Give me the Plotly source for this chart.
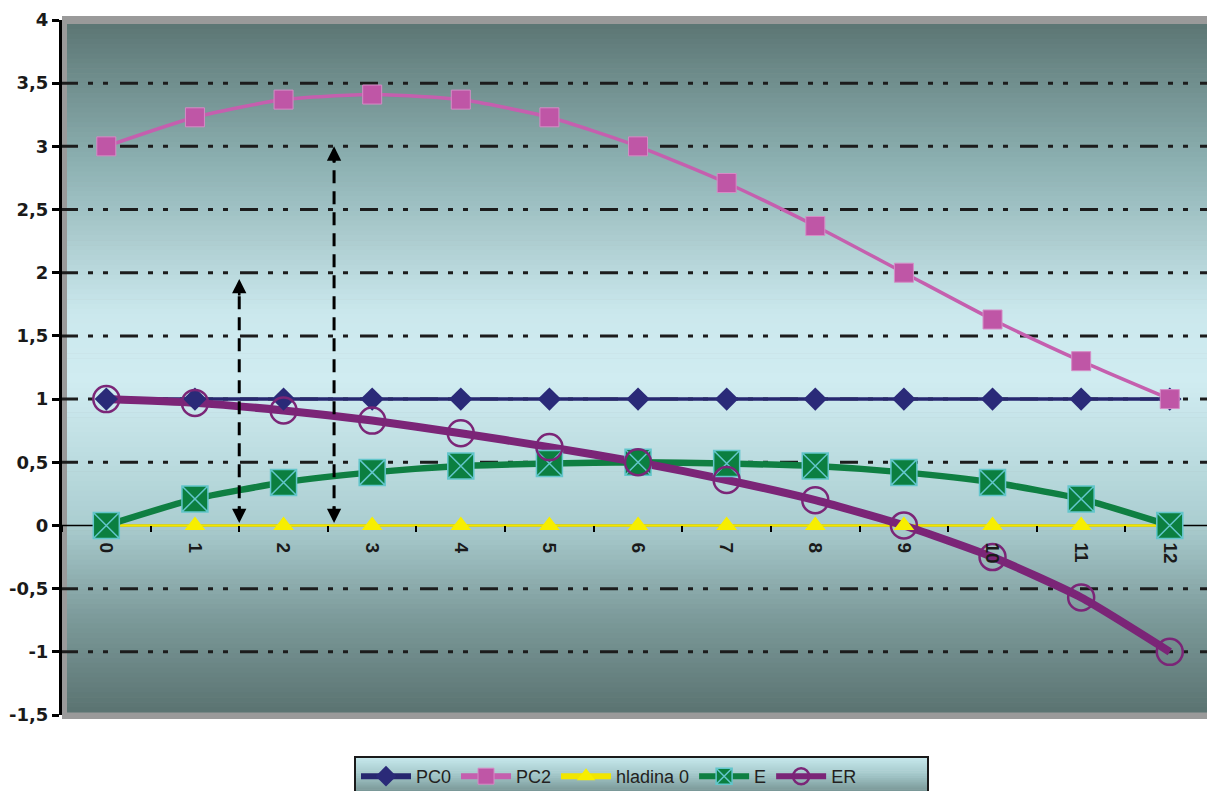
import plotly.graph_objects as go

# ---- data -------------------------------------------------------------
categories = [str(i) for i in range(13)]
pc0 = [1, 1, 1, 1, 1, 1, 1, 1, 1, 1, 1, 1, 1]
pc2 = [3.0, 3.23, 3.37, 3.41, 3.37, 3.23, 3.0, 2.71, 2.37, 2.0, 1.63, 1.3, 1.0]
hladina0 = [0, 0, 0, 0, 0, 0, 0, 0, 0, 0, 0, 0, 0]
e_vals = [0, 0.21, 0.34, 0.42, 0.47, 0.49, 0.5, 0.49, 0.47, 0.42, 0.34, 0.21, 0]
er_vals = [1, 0.97, 0.91, 0.83, 0.73, 0.62, 0.5, 0.36, 0.2, 0, -0.25, -0.57, -1]

y_tickvals = [4, 3.5, 3, 2.5, 2, 1.5, 1, 0.5, 0, -0.5, -1, -1.5]
y_ticktext = ["4", "3,5", "3", "2,5", "2", "1,5", "1", "0,5", "0", "-0,5", "-1", "-1,5"]
grid_values = [3.5, 3, 2.5, 2, 1.5, 1, 0.5, -0.5, -1]

# double-headed dimension arrows (category position, top value)
arrow_x = [1.5, 2.57]
arrow_top = [1.95, 3.0]

# ---- geometry helpers (pixels -> paper) -------------------------------
W, H = 1207, 791
ML, MR, MT, MB = 62, 0, 20, 76
PW, PH = W - ML - MR, H - MT - MB


def px_x(px):
    return (px - ML) / PW


def px_y(py):
    return (H - MB - py) / PH


def lerp_color(stops, t):
    for (t0, c0), (t1, c1) in zip(stops, stops[1:]):
        if t0 <= t <= t1:
            f = (t - t0) / (t1 - t0) if t1 > t0 else 0
            c = [round(a + (b - a) * f) for a, b in zip(c0, c1)]
            return "rgb(%d,%d,%d)" % tuple(c)
    return "rgb(%d,%d,%d)" % stops[-1][1]


shapes = []

# grey wall frame behind the plotting area
shapes.append(dict(type="rect", xref="paper", yref="paper", layer="below",
                   x0=px_x(62), x1=px_x(1207), y0=px_y(719), y1=px_y(16),
                   fillcolor="#9a9a9a", line=dict(width=0)))

# vertical gradient of the wall
wall_stops = [
    (0.00, (92, 118, 116)),
    (0.20, (140, 176, 177)),
    (0.42, (203, 232, 237)),
    (0.52, (208, 236, 241)),
    (0.72, (172, 207, 210)),
    (0.86, (125, 155, 155)),
    (1.00, (90, 115, 113)),
]
g_top, g_bot = 24, 712
n_bands = 140
for i in range(n_bands):
    y0 = g_top + (g_bot - g_top) * i / n_bands
    y1 = g_top + (g_bot - g_top) * (i + 1) / n_bands
    col = lerp_color(wall_stops, (i + 0.5) / n_bands)
    shapes.append(dict(type="rect", xref="paper", yref="paper", layer="below",
                       x0=px_x(67), x1=px_x(1207), y0=px_y(y1 + 0.6), y1=px_y(y0),
                       fillcolor=col, line=dict(width=0)))

# dash-dot-dot horizontal gridlines
for gv in grid_values:
    shapes.append(dict(type="line", xref="paper", yref="y", layer="below",
                       x0=px_x(60), x1=1, y0=gv, y1=gv,
                       line=dict(color="#1c1c1c", width=3,
                                 dash="18px,10px,5px,10px,5px,12px")))

# category axis line at y = 0 (kept underneath the series)
shapes.append(dict(type="line", xref="paper", yref="y", layer="below",
                   x0=0, x1=1, y0=0, y1=0,
                   line=dict(color="black", width=1.5)))

# dashed shafts of the arrows
for ax_, top in zip(arrow_x, arrow_top):
    shapes.append(dict(type="line", xref="x", yref="y", layer="above",
                       x0=ax_, x1=ax_, y0=0.05, y1=top - 0.08,
                       line=dict(color="black", width=3, dash="13px,8px")))

# legend box background gradient + border
leg_stops = [(0.0, (200, 234, 238)), (0.5, (160, 196, 198)), (1.0, (110, 138, 137))]
lb_top, lb_bot = 757, 795
for i in range(20):
    y0 = lb_top + (lb_bot - lb_top) * i / 20
    y1 = lb_top + (lb_bot - lb_top) * (i + 1) / 20
    shapes.append(dict(type="rect", xref="paper", yref="paper", layer="below",
                       x0=px_x(355), x1=px_x(928), y0=px_y(y1 + 0.5), y1=px_y(y0),
                       fillcolor=lerp_color(leg_stops, (i + 0.5) / 20),
                       line=dict(width=0)))
shapes.append(dict(type="rect", xref="paper", yref="paper", layer="above",
                   x0=px_x(355), x1=px_x(928), y0=px_y(lb_bot), y1=px_y(lb_top),
                   fillcolor="rgba(0,0,0,0)", line=dict(color="#1a1a1a", width=2)))

annotations = []
for ax_, top in zip(arrow_x, arrow_top):
    annotations.append(dict(x=ax_, y=top, xref="x", yref="y", text="",
                            showarrow=True, ax=0, ay=18, arrowhead=2,
                            arrowsize=1.1, arrowwidth=2.6, arrowcolor="black",
                            standoff=0))
    annotations.append(dict(x=ax_, y=0.02, xref="x", yref="y", text="",
                            showarrow=True, ax=0, ay=-18, arrowhead=2,
                            arrowsize=1.1, arrowwidth=2.6, arrowcolor="black",
                            standoff=0))

series = [
    dict(name="PC0", y=pc0, lc="#27276f", lw=3.5, shape="linear",
         marker=dict(symbol="diamond", size=18, color="#2a2a78",
                     line=dict(width=0))),
    dict(name="PC2", y=pc2, lc="#c55fae", lw=3.5, shape="spline",
         marker=dict(symbol="square", size=19, color="#bf56a6",
                     line=dict(width=1, color="#d58cc6"))),
    dict(name="hladina 0", y=hladina0, lc="#f2e600", lw=2.5, shape="linear",
         marker=dict(symbol="triangle-up", size=18, color="#f7ee00",
                     line=dict(width=0))),
    dict(name="E", y=e_vals, lc="#0f7f42", lw=6.5, shape="spline",
         marker=dict(symbol="square-x", size=26, color="#0b7f40",
                     line=dict(width=1.5, color="#63c6cc"))),
    dict(name="ER", y=er_vals, lc="#7b2577", lw=8, shape="spline",
         marker=dict(symbol="circle-open", size=26, color="#7b2577",
                     line=dict(width=2.5))),
]

fig = go.Figure()
# all connecting lines first, markers on top of them
for s in series:
    fig.add_trace(go.Scatter(x=categories, y=s["y"], mode="lines",
                             line=dict(color=s["lc"], width=s["lw"],
                                       shape=s["shape"], smoothing=0.6),
                             showlegend=False, hoverinfo="skip"))
for s in series:
    fig.add_trace(go.Scatter(x=categories, y=s["y"], mode="markers",
                             marker=s["marker"], showlegend=False,
                             name=s["name"]))
# legend entries
for s in series:
    lm = dict(s["marker"])
    lm["size"] = min(lm["size"], 16)
    fig.add_trace(go.Scatter(x=[None], y=[None], mode="lines+markers",
                             name=s["name"], marker=lm,
                             line=dict(color=s["lc"], width=6)))

fig.update_layout(
    width=W, height=H,
    margin=dict(l=ML, r=MR, t=MT, b=MB, autoexpand=False),
    paper_bgcolor="white",
    plot_bgcolor="rgba(0,0,0,0)",
    shapes=shapes,
    annotations=annotations,
    showlegend=True,
    legend=dict(orientation="h", xref="container", yref="container",
                x=356 / W, y=1 - 758 / H, xanchor="left", yanchor="top",
                bgcolor="rgba(0,0,0,0)", borderwidth=0,
                itemwidth=50, font=dict(family="Liberation Sans", size=18,
                                        color="#231f20"),
                traceorder="normal"),
    xaxis=dict(type="category", range=[-0.5, 12.42], anchor="free",
               position=1.5 / 5.5, showgrid=False, zeroline=False,
               showline=False,
               ticks="outside", ticklen=6, tickwidth=2, tickcolor="black",
               tickson="boundaries", tickangle=90, ticklabelstandoff=16,
               tickfont=dict(family="Liberation Sans", size=19, color="#1a1a1a",
                             weight="bold"),
               layer="above traces", automargin=False),
    yaxis=dict(range=[-1.5, 4], tickvals=y_tickvals, ticktext=y_ticktext,
               showgrid=False, zeroline=False, showline=True,
               linecolor="black", linewidth=3, ticks="outside", ticklen=7,
               tickwidth=2.5, tickcolor="black",
               tickfont=dict(family="DejaVu Sans", size=18, color="#1a1a1a",
                             weight="bold"),
               layer="below traces", automargin=False),
)

fig.write_html("out.html")
